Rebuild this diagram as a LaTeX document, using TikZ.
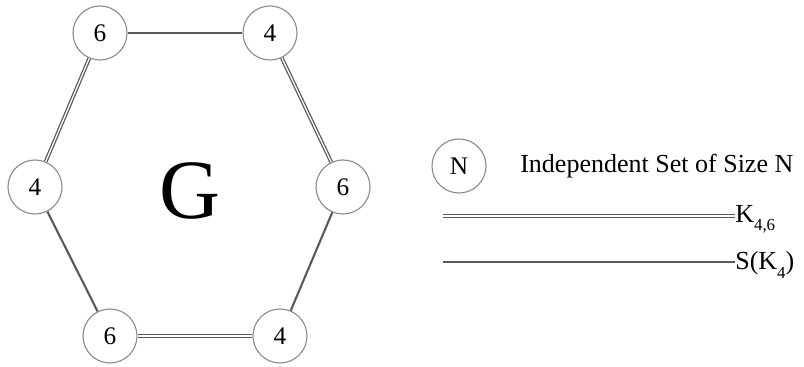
\documentclass[tikz,border=0pt]{standalone}
\usepackage{fontspec}
\setmainfont{Liberation Serif}
\usetikzlibrary{positioning}

\begin{document}
\begin{tikzpicture}[x=0.025cm, y=0.025cm,
        iset/.style = {draw=gray!90, circle, fill=white, line width=0.8pt, minimum size=1.35cm, inner sep=0pt, font=\fontsize{18}{20}\selectfont},
        sk/.style = {draw=black!65, line width=1.5pt},
        kmn/.style = {draw=black!65, line width=0.9pt, double=white, double distance=0.9pt},
        lab/.style = {font=\fontsize{18.5}{20}\selectfont, inner sep=0pt}]
            \useasboundingbox (0,0) rectangle (804,367);
            % the hexagon
            \node[iset](a) at (100,334){6};
            \node[iset](b) at (270,334){4};
            \node[iset](c) at (343,180){6};
            \node[iset](d) at (280,31){4};
            \node[iset](e) at (110,31){6};
            \node[iset](f) at (35,180){4};
            \node[font=\fontsize{60}{62}\selectfont](g) at (190,176){G};
            \draw[sk] (a) -- (b);
            \draw[kmn] (b) -- (c);
            \draw[sk] (c) -- (d);
            \draw[kmn] (d) -- (e);
            \draw[sk] (e) -- (f);
            \draw[kmn] (f) -- (a);
            % legend
            \node[iset](n) at (459,201){N};
            \node[lab, anchor=west](ntext) at (520,201){Independent Set of Size N};
            \coordinate (k1) at (443,151);
            \node[lab, anchor=west](klab) at (735,148){K\raisebox{-0.7ex}{\fontsize{12}{13}\selectfont 4,6}};
            \draw[kmn] (k1) -- (klab.west |- k1);
            \coordinate (s1) at (443,105);
            \node[lab, anchor=west](slab) at (735,102){S(K\raisebox{-0.7ex}{\fontsize{12}{13}\selectfont 4})};
            \draw[sk] (s1) -- (slab.west |- s1);
        \end{tikzpicture}
\end{document}
